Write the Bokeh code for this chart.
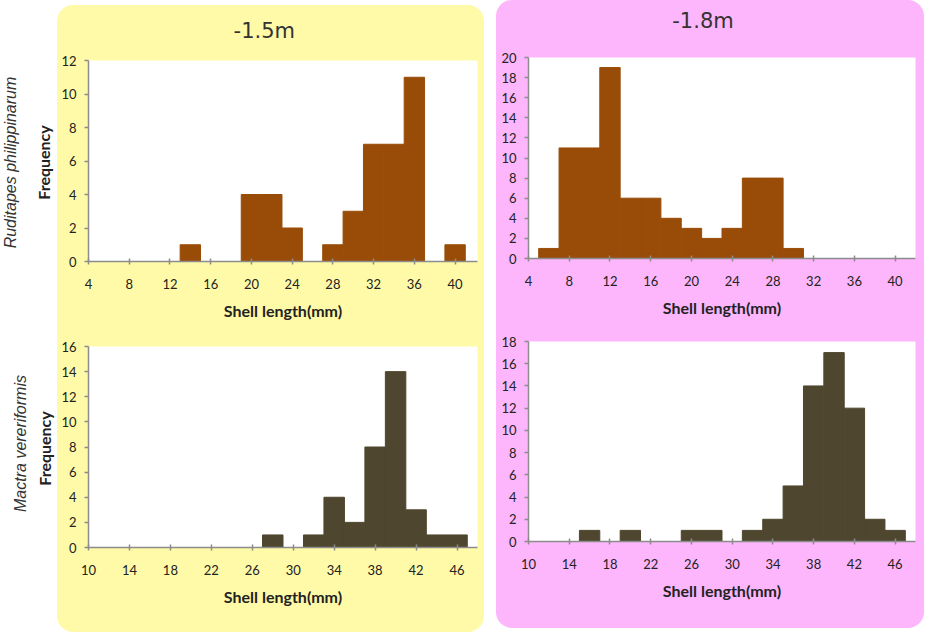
import numpy as np
from bokeh.plotting import figure
from bokeh.layouts import row, column, Spacer
from bokeh.models import Range1d, FixedTicker, Label
from bokeh.embed import file_html
from bokeh.resources import INLINE

# ---------------- data ----------------
# Ruditapes philippinarum, -1.5 m (bin centres, 2 mm bins)
rp15_centers = [6, 8, 10, 12, 14, 16, 18, 20, 22, 24, 26, 28, 30, 32, 34, 36, 38, 40]
rp15_counts = [0, 0, 0, 0, 1, 0, 0, 4, 4, 2, 0, 1, 3, 7, 7, 11, 0, 1]
# Ruditapes philippinarum, -1.8 m
rp18_centers = [6, 8, 10, 12, 14, 16, 18, 20, 22, 24, 26, 28, 30, 32, 34, 36, 38, 40]
rp18_counts = [1, 11, 11, 19, 6, 6, 4, 3, 2, 3, 8, 8, 1, 0, 0, 0, 0, 0]
# Mactra vereriformis, -1.5 m
mv15_centers = [12, 14, 16, 18, 20, 22, 24, 26, 28, 30, 32, 34, 36, 38, 40, 42, 44, 46]
mv15_counts = [0, 0, 0, 0, 0, 0, 0, 0, 1, 0, 1, 4, 2, 8, 14, 3, 1, 1]
# Mactra vereriformis, -1.8 m
mv18_centers = [12, 14, 16, 18, 20, 22, 24, 26, 28, 30, 32, 34, 36, 38, 40, 42, 44, 46]
mv18_counts = [0, 0, 1, 0, 1, 0, 0, 1, 1, 0, 1, 2, 5, 14, 17, 12, 2, 1]

rp_xticks = [4, 8, 12, 16, 20, 24, 28, 32, 36, 40]
mv_xticks = [10, 14, 18, 22, 26, 30, 34, 38, 42, 46]

titles = ["-1.5m", "-1.8m"]
species = ["Ruditapes philippinarum", "Mactra vereriformis"]
x_title = "Shell length(mm)"
y_title = "Frequency"

# ---------------- style ----------------
YELLOW = "#FFFAA8"
PINK = "#FDB6FB"
BROWN = "#994C08"
OLIVE = "#4E462E"
AXIS = "#8C8C8C"
TXT = "#222222"
TICK_FONT = "Lato"


def text_strip(w, h):
    """A blank figure whose data units are pixels, used for free-standing texts."""
    f = figure(width=w, height=h, x_range=Range1d(0, w), y_range=Range1d(h, 0),
               x_axis_type=None, y_axis_type=None, output_backend="svg",
               toolbar_location=None, min_border=0)
    f.grid.visible = False
    f.outline_line_color = None
    f.background_fill_alpha = 0
    f.border_fill_alpha = 0
    return f


def hist(centers, counts, color, xr, ymax, xticks, w, h, bl, br, bt, bb):
    p = figure(width=w, height=h, x_range=Range1d(*xr), y_range=Range1d(0, ymax),
               output_backend="svg", toolbar_location=None,
               min_border_left=bl, min_border_right=br, min_border_top=bt, min_border_bottom=bb)
    p.vbar(x=centers, top=counts, width=2, bottom=0, fill_color=color,
           line_color=color, line_width=1)
    p.grid.visible = False
    p.outline_line_color = None
    p.background_fill_color = "white"
    p.border_fill_alpha = 0
    p.xaxis.ticker = FixedTicker(ticks=xticks)
    p.yaxis.ticker = FixedTicker(ticks=list(range(0, ymax + 1, 2)))
    p.axis.axis_line_color = AXIS
    p.axis.axis_line_width = 1.5
    p.axis.major_tick_line_color = AXIS
    p.axis.major_tick_line_width = 1.5
    p.axis.minor_tick_line_color = None
    p.axis.major_label_text_font = TICK_FONT
    p.axis.major_label_text_font_size = "13px"
    p.axis.major_label_text_color = TXT
    p.xaxis.major_tick_in = 3
    p.xaxis.major_tick_out = 3
    p.yaxis.major_tick_in = 0
    p.yaxis.major_tick_out = 4
    p.xaxis.major_label_standoff = 14
    p.yaxis.major_label_standoff = 8
    p.xaxis.axis_label = x_title
    p.xaxis.axis_label_text_font = TICK_FONT
    p.xaxis.axis_label_text_font_size = "16px"
    p.xaxis.axis_label_text_font_style = "bold"
    p.xaxis.axis_label_text_color = TXT
    p.xaxis.axis_label_standoff = 9
    return p


def title_fig(w, h, cx, cy, txt):
    t = text_strip(w, h)
    t.add_layout(Label(x=cx, y=cy, text=txt, text_align="center", text_baseline="middle",
                       text_font="DejaVu Sans", text_font_size="21px", text_color="#333333"))
    return t


# yellow column (x 57..484, y 5..632), pink column (x 496..924, y 0..628)
t1 = title_fig(427, 40, 193, 25, titles[0])
f1 = hist(rp15_centers, rp15_counts, BROWN, (4, 42.2), 12, rp_xticks, 427, 280, 29, 7, 15, 64)
f3 = hist(mv15_centers, mv15_counts, OLIVE, (10, 48), 16, mv_xticks, 427, 307, 31, 7, 21, 85)
t2 = title_fig(428, 40, 193, 20, titles[1])
f2 = hist(rp18_centers, rp18_counts, BROWN, (4, 42), 20, rp_xticks, 428, 285, 29, 9, 17, 67)
f4 = hist(mv18_centers, mv18_counts, OLIVE, (10, 48), 18, mv_xticks, 428, 303, 32, 7, 16, 87)

# left label strip
H = 632
lab = text_strip(57, H)
for sx, sy, txt in [(9.5, 162, species[0]), (19.7, 443, species[1])]:
    lab.add_layout(Label(x=sx, y=sy, text=txt, angle=np.pi / 2, text_align="center",
                         text_baseline="middle", text_font="Liberation Sans",
                         text_font_style="italic", text_font_size="16px", text_color="#333333"))
for sx, sy in [(43, 162), (44, 448)]:
    lab.add_layout(Label(x=sx, y=sy, text=y_title, angle=np.pi / 2, text_align="center",
                         text_baseline="middle", text_font=TICK_FONT,
                         text_font_style="bold", text_font_size="16px", text_color=TXT))

ycol = column(t1, f1, f3, styles={"background-color": YELLOW, "border-radius": "16px"},
              margin=(5, 0, 0, 0))
pcol = column(t2, f2, f4, styles={"background-color": PINK, "border-radius": "16px"})

layout = row(lab, ycol, Spacer(width=12, height=10), pcol)

with open("out.html", "w") as fh:
    fh.write(file_html(layout, INLINE))
